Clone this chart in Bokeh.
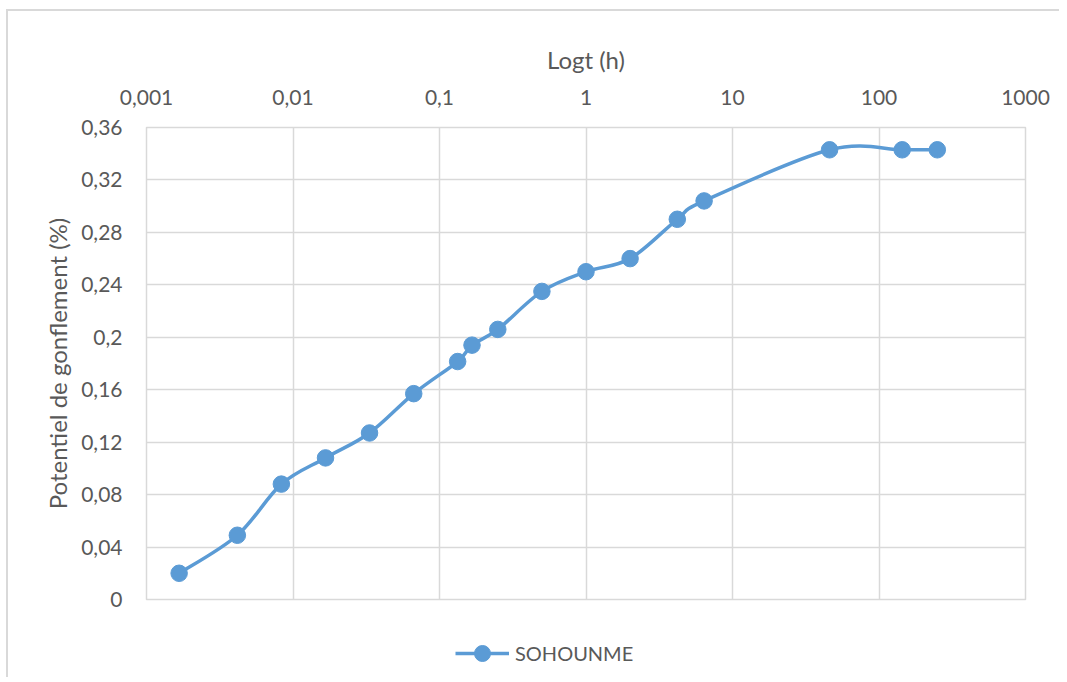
import numpy as np
from bokeh.plotting import figure
from bokeh.layouts import column
from bokeh.models import (LinearAxis, LogAxis, FixedTicker, CustomJSTickFormatter,
                          Range1d, Legend, LegendItem, ColumnDataSource, Grid, LogScale)
from bokeh.embed import file_html
from bokeh.resources import INLINE

# ---- data ----
time_h = [0.00167, 0.00417, 0.00833, 0.01667, 0.0333, 0.0667, 0.133, 0.1667,
          0.25, 0.5, 1, 2, 4.2, 6.4, 46, 144, 250]
swell = [0.020, 0.049, 0.088, 0.108, 0.127, 0.157, 0.1815, 0.194,
         0.206, 0.235, 0.250, 0.260, 0.290, 0.304, 0.343, 0.343, 0.343]
series_name = "SOHOUNME"
x_ticks = [0.001, 0.01, 0.1, 1, 10, 100, 1000]
y_ticks = [0, 0.04, 0.08, 0.12, 0.16, 0.2, 0.24, 0.28, 0.32, 0.36]

COLOR = "#5b9bd5"
TXT = "#595959"
GRID = "#d9d9d9"
FONT = "Lato"

p = figure(frame_width=877, frame_height=470, output_backend="svg", toolbar_location=None,
           x_axis_type=None, y_axis_type=None, x_axis_location=None,
           y_axis_location=None,
           x_range=Range1d(0.001, 1000), y_range=Range1d(0, 0.36),
           min_border_left=138, min_border_right=36, min_border_top=116,
           min_border_bottom=30)
p.x_scale = LogScale()

p.styles = {"border-left": "2px solid #d9d9d9", "border-top": "2px solid #d9d9d9",
            "margin-left": "6px", "margin-top": "9px"}
p.outline_line_color = GRID
p.outline_line_width = 1.5

xfmt = CustomJSTickFormatter(code="""
var s = parseFloat(tick.toPrecision(6)).toString();
return s.replace('.', ',');
""")
yfmt = CustomJSTickFormatter(code="""
var s = parseFloat(tick.toFixed(2)).toString();
return s.replace('.', ',');
""")

xaxis = LogAxis(ticker=FixedTicker(ticks=x_ticks), formatter=xfmt,
                axis_label="Logt (h)")
yaxis = LinearAxis(ticker=FixedTicker(ticks=y_ticks), formatter=yfmt,
                   axis_label="Potentiel de gonflement (%)")
for ax in (xaxis, yaxis):
    ax.axis_line_color = None
    ax.major_tick_line_color = None
    ax.minor_tick_line_color = None
    ax.major_label_text_color = TXT
    ax.major_label_text_font = FONT
    ax.major_label_text_font_size = "21px"
    ax.axis_label_text_color = TXT
    ax.axis_label_text_font = FONT
    ax.axis_label_text_font_size = "24px"
    ax.axis_label_text_font_style = "normal"
xaxis.major_label_standoff = 17
xaxis.axis_label_standoff = 13
yaxis.major_label_standoff = 18
yaxis.axis_label_standoff = 6
p.add_layout(xaxis, "above")
p.add_layout(yaxis, "left")

p.add_layout(Grid(dimension=0, ticker=xaxis.ticker, grid_line_color=GRID, grid_line_width=1.5))
p.add_layout(Grid(dimension=1, ticker=yaxis.ticker, grid_line_color=GRID, grid_line_width=1.5))

# smooth (Catmull-Rom -> cubic Bezier) in (log10 x, y) space
lx = np.log10(np.array(time_h))
yy = np.array(swell)
n = len(lx)
px = np.concatenate([[lx[0]], lx, [lx[-1]]])
py = np.concatenate([[yy[0]], yy, [yy[-1]]])
x0 = lx[:-1]; y0 = yy[:-1]; x1 = lx[1:]; y1 = yy[1:]
cx0 = lx[:-1] + (px[2:n + 1] - px[0:n - 1]) / 6.0
cy0 = yy[:-1] + (py[2:n + 1] - py[0:n - 1]) / 6.0
cx1 = lx[1:] - (px[3:n + 2] - px[1:n]) / 6.0
cy1 = yy[1:] - (py[3:n + 2] - py[1:n]) / 6.0
bsrc = ColumnDataSource(dict(x0=10 ** x0, y0=y0, x1=10 ** x1, y1=y1,
                             cx0=10 ** cx0, cy0=cy0, cx1=10 ** cx1, cy1=cy1))
p.bezier(x0="x0", y0="y0", x1="x1", y1="y1", cx0="cx0", cy0="cy0",
         cx1="cx1", cy1="cy1", source=bsrc, line_color=COLOR, line_width=3.5)
p.scatter(time_h, swell, size=16.5, fill_color=COLOR, line_color=COLOR)

# ---- legend strip below the chart ----
p2 = figure(width=1051, height=50, output_backend="svg", toolbar_location=None,
            x_range=Range1d(0, 1), y_range=Range1d(0, 1),
            min_border=0, min_border_left=0, min_border_right=0,
            min_border_top=0, min_border_bottom=0)
p2.axis.visible = False
p2.grid.visible = False
p2.outline_line_color = None
p2.styles = {"border-left": "2px solid #d9d9d9", "margin-left": "6px"}
l_line = p2.line([-5, -4], [-5, -5], line_color=COLOR, line_width=3.5)
l_pts = p2.scatter([-5], [-5], size=16.5, fill_color=COLOR, line_color=COLOR)
legend = Legend(items=[LegendItem(label=series_name, renderers=[l_line, l_pts])],
                location=(309, 4), orientation="horizontal",
                glyph_width=54, glyph_height=40, label_height=40,
                label_text_font=FONT, label_text_baseline="middle",
                label_text_font_size="20px", label_text_color=TXT,
                border_line_color=None, background_fill_alpha=0,
                label_standoff=6, padding=0, spacing=0, margin=0)
p2.add_layout(legend, "center")

layout = column(p, p2, spacing=0)
open("out.html", "w").write(file_html(layout, INLINE))
